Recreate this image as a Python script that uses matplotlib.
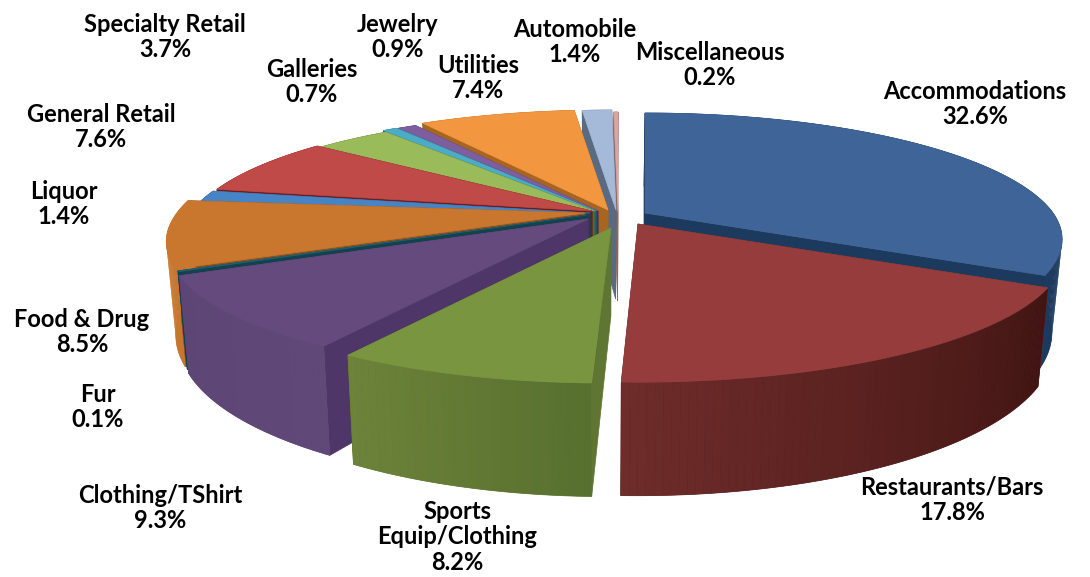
import numpy as np
import matplotlib
matplotlib.use("Agg")
import matplotlib.pyplot as plt
from matplotlib.patches import Polygon
from matplotlib.collections import PolyCollection
from matplotlib.colors import to_rgb

categories = ["Accommodations", "Restaurants/Bars", "Sports\nEquip/Clothing", "Clothing/TShirt",
              "Fur", "Food & Drug", "Liquor", "General Retail", "Specialty Retail", "Galleries",
              "Jewelry", "Utilities", "Automobile", "Miscellaneous"]
shares = [32.6, 17.8, 8.2, 9.3, 0.1, 8.5, 1.4, 7.6, 3.7, 0.7, 0.9, 7.4, 1.4, 0.2]

top_colors = ["#3F6497", "#963C3C", "#7A9540", "#654A7E", "#1F5F70", "#C9762F", "#4684C5",
              "#BF4A48", "#9ABB59", "#4AACC5", "#7D5F9F", "#F29640", "#A5B9D9", "#D9A5A3"]
side_colors = ["#1C3A5E", "#4E3A1E", "#5F7532", "#4E3668", "#12424E", "#8A5220", "#1E3E5E",
               "#6E1C1C", "#566B2B", "#1E6070", "#3F2F55", "#A8651F", "#5A6A80", "#8A6664"]
# outer wall shading, start of slice to end of slice
wall_from = ["#1C3A5E", "#3F1412", "#58702F", "#604878", "#12424E", "#C8762E", "#1E3E5E",
             "#6E1C1C", "#566B2B", "#1E6070", "#3F2F55", "#A8651F", "#5A6A80", "#8A6664"]
wall_to = ["#1C3A5E", "#6E2C2A", "#6D833A", "#5D4575", "#12424E", "#C8762E", "#1E3E5E",
           "#6E1C1C", "#566B2B", "#1E6070", "#3F2F55", "#A8651F", "#5A6A80", "#8A6664"]

# where each slice's point ended up after exploding (pixels)
apex_x = [645, 638, 611, 588, 587, 585, 590, 592, 594, 596, 598, 608, 616, 618]
apex_y = [213, 224, 228, 219, 215, 213, 213, 211, 211, 211, 211, 210, 210, 212]
lean = [0.03, 0.0, 0.02, 0.03, 0.03, 0.03, 0.03, 0.03, 0.03, 0.03, 0.03, 0.0, 0.0, 0.0]
stretch = [1.0, 1.02, 1.0, 1.0, 1.0, 1.0, 0.98, 0.975, 0.965, 0.985, 0.985, 1.0, 1.0, 1.0]

label_x = [975, 952, 457, 160, 98, 82, 64, 101, 165, 312, 398, 478, 575, 710]
label_y = [104, 500, 537, 508, 407, 332, 204, 127, 37, 82, 37, 78, 42, 65]

draw_order = [13, 12, 11, 10, 9, 8, 7, 6, 0, 5, 4, 3, 1, 2]

RX, RY, PERSP, DEPTH = 408.0, 121.6, 0.216, 89.0


def rim(theta, i):
    X, Y = np.sin(theta), np.cos(theta)
    w = 1 + PERSP * Y
    py = -RY * Y / w * stretch[i]
    px = RX * X / w * stretch[i] - lean[i] * np.maximum(py, 0)
    return apex_x[i] + px, apex_y[i] + py, w


def lower(x, y, w):
    return x - (x - 600) * 0.022, y + DEPTH / w


fig = plt.figure(figsize=(10.9, 5.77), dpi=100)
ax = fig.add_axes([0, 0, 1, 1])
ax.set_xlim(0, 1090)
ax.set_ylim(577, 0)
ax.axis("off")

edges = np.concatenate([[0], np.cumsum(shares)]) / sum(shares) * 2 * np.pi

for i in draw_order:
    t = np.linspace(edges[i], edges[i + 1], max(int(shares[i] * 4), 4))
    x, y, w = rim(t, i)
    bx, by = lower(x, y, w)
    ax0, ay0 = apex_x[i], apex_y[i]
    abx, aby = lower(ax0, ay0, 1.0)

    # the two cut faces
    for k in (0, -1):
        ax.add_patch(Polygon([(ax0, ay0), (x[k], y[k]), (bx[k], by[k]), (abx, aby)],
                             closed=True, fc=side_colors[i], ec=side_colors[i], lw=0.5))

    # outer wall: one solid piece, then strips on top so the shading can run along it
    c0, c1 = np.array(to_rgb(wall_from[i])), np.array(to_rgb(wall_to[i]))
    outline = np.column_stack([np.r_[x, bx[::-1]], np.r_[y, by[::-1]]])
    ax.add_patch(Polygon(outline, closed=True, fc=(c0 + c1) / 2, ec=(c0 + c1) / 2, lw=0.5))
    quads, cols = [], []
    for j in range(len(t) - 1):
        quads.append([(x[j], y[j]), (x[j + 1], y[j + 1]), (bx[j + 1], by[j + 1]), (bx[j], by[j])])
        cols.append(c0 + (c1 - c0) * j / max(len(t) - 2, 1))
    ax.add_collection(PolyCollection(quads, facecolors=cols, edgecolors="none", linewidths=0))

    ax.add_patch(Polygon(np.column_stack([np.r_[ax0, x], np.r_[ay0, y]]), closed=True,
                         fc=top_colors[i], ec=top_colors[i], lw=0.5))

for name, val, lx, ly in zip(categories, shares, label_x, label_y):
    ax.text(lx, ly, f"{name}\n{val:.1f}%", ha="center", va="center", fontsize=17,
            fontweight="bold", family="Lato", color="black", linespacing=1.14)

fig.savefig("out.png", dpi=100)
